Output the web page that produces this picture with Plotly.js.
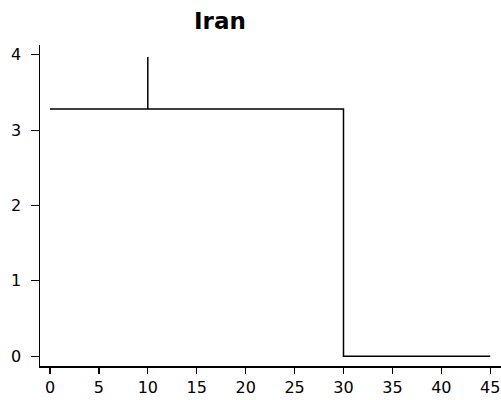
<!DOCTYPE html>
<html>
<head>
<meta charset="utf-8">
<script src="https://cdn.plot.ly/plotly-3.0.1.min.js"></script>
<style>html,body{margin:0;padding:0;background:#fff}#chart{width:501px;height:400px}</style>
</head>
<body>
<div id="chart"></div>
<script>
const xValues = [0, 10, 10, 10, 30, 30, 45];
const yValues = [3.28, 3.28, 3.97, 3.28, 3.28, 0, 0];
const xTicks = [0, 5, 10, 15, 20, 25, 30, 35, 40, 45];
const yTicks = [0, 1, 2, 3, 4];
const chartTitle = 'Iran';

const trace = {
  x: xValues, y: yValues, type: 'scatter', mode: 'lines',
  line: {color: '#000', width: 1.5}, hoverinfo: 'skip'
};
const axisFont = {family: 'DejaVu Sans, Arial, sans-serif', size: 16, color: '#000'};
const layout = {
  width: 501, height: 400,
  margin: {l: 40, r: 0, t: 45, b: 34},
  paper_bgcolor: '#fff', plot_bgcolor: '#fff',
  showlegend: false,
  title: {text: '<b>' + chartTitle + '</b>', x: 0.439, xref: 'container', xanchor: 'center',
          y: 0.948, yref: 'container', yanchor: 'middle',
          font: {family: 'DejaVu Sans, Arial, sans-serif', size: 23, color: '#000'}},
  xaxis: {range: [-1.02, 46.1], tickvals: xTicks, ticktext: xTicks.map(String),
          ticks: 'outside', ticklen: 6, tickwidth: 1.2, tickcolor: '#000',
          showline: true, linecolor: '#000', linewidth: 1.5, showgrid: false, zeroline: false,
          tickfont: axisFont, fixedrange: true},
  yaxis: {range: [-0.13, 4.13], tickvals: yTicks, ticktext: yTicks.map(String),
          ticks: 'outside', ticklen: 8, tickwidth: 1.2, tickcolor: '#000',
          ticklabelstandoff: 6,
          showline: true, linecolor: '#000', linewidth: 1.5, showgrid: false, zeroline: false,
          tickfont: axisFont, fixedrange: true}
};
Plotly.newPlot('chart', [trace], layout, {staticPlot: true, displayModeBar: false});
</script>
</body>
</html>
